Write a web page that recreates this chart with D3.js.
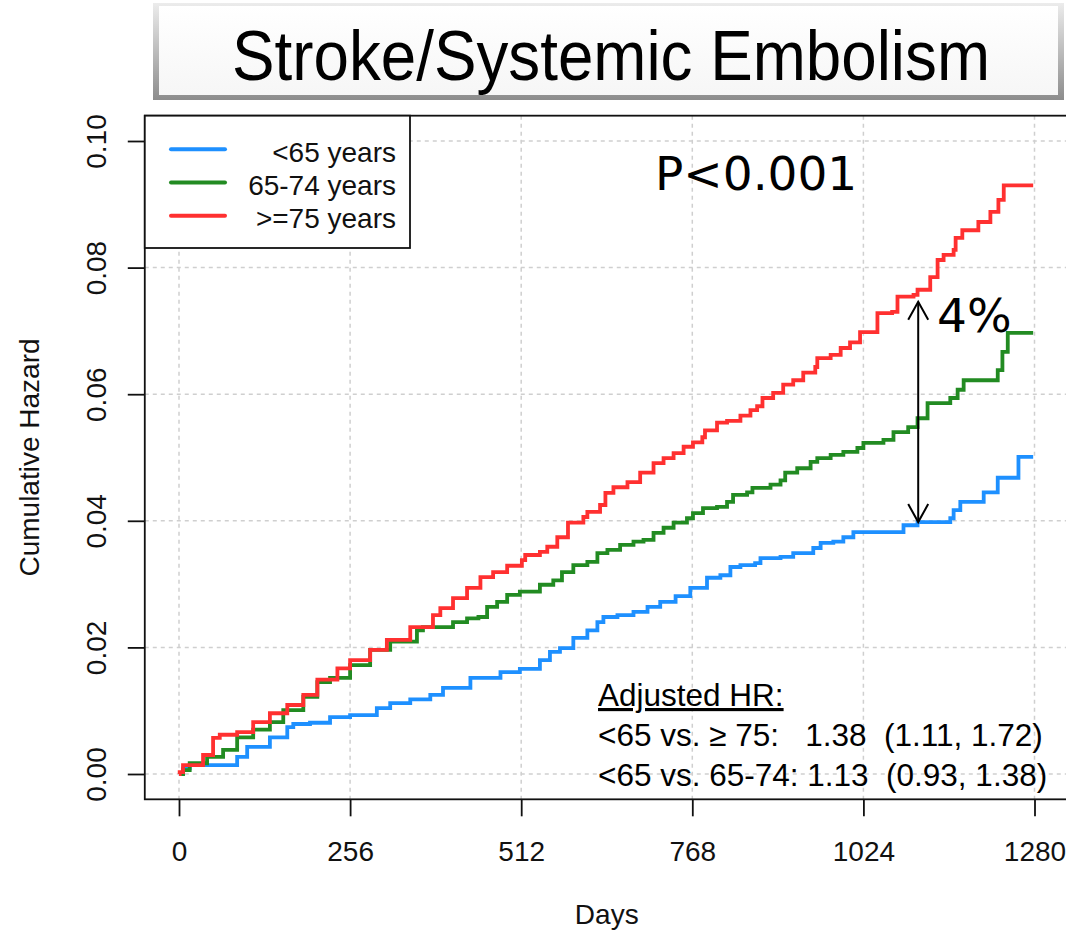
<!DOCTYPE html>
<html>
  <head>
    <meta charset="utf-8">
    <title>stroke-embolism-hazard</title>
    <script type="text/javascript" src="https://cdn.jsdelivr.net/npm/d3@7"></script>
    <style type="text/css">
      body { margin: 0; background: #fff; }
      .axis text { font-family: "Liberation Sans", Arial, sans-serif; font-size: 28px; fill: #111; }
      .axis line { stroke: #111; stroke-width: 1.8; }
      .r-text { font-family: "Liberation Sans", Arial, sans-serif; fill: #111; }
      .ppt-text { font-family: "DejaVu Sans", Verdana, sans-serif; fill: #000; }
    </style>
  </head>
  <body>
    <script type="text/javascript">
      var w = 1066;
      var h = 932;

      // tick values
      var xTicks = [0, 256, 512, 768, 1024, 1280];
      var yTicks = [0, 0.02, 0.04, 0.06, 0.08, 0.10];

      // legend / series names
      var groups = ["<65 years", "65-74 years", ">=75 years"];
      var colors = ["#1E90FF", "#228B22", "#FF3030"];

      // <65 years
      var daysA = [0, 6, 16, 51, 87, 102, 136, 162, 171, 196, 226, 256, 296, 316, 346, 376, 395, 436, 481, 510,
                   540, 555, 570, 590, 611, 626, 635, 656, 680, 701, 720, 743, 765, 790, 810, 825, 840, 862, 870, 900,
                   919, 949, 960, 979, 994, 1009, 1084, 1105, 1154, 1159, 1169, 1204, 1225, 1256, 1278];
      var hazA = [0, 0.0009, 0.0014, 0.0014, 0.0027, 0.0043, 0.0058, 0.0074, 0.0079, 0.0081, 0.0090, 0.0093, 0.0104, 0.0112, 0.0118, 0.0125, 0.0136, 0.0152, 0.0161, 0.0166,
                  0.0180, 0.0193, 0.0199, 0.0215, 0.0227, 0.0240, 0.0248, 0.0251, 0.0256, 0.0264, 0.0272, 0.0281, 0.0294, 0.0310, 0.0314, 0.0327, 0.0330, 0.0333, 0.0341, 0.0343,
                  0.0349, 0.0357, 0.0365, 0.0367, 0.0374, 0.0382, 0.0393, 0.0398, 0.0404, 0.0417, 0.0430, 0.0445, 0.0468, 0.0501, 0.0501];

      // 65-74 years
      var daysB = [0, 6, 16, 42, 66, 87, 111, 136, 156, 186, 207, 226, 256, 286, 316, 356, 365, 391, 410, 431,
                   448, 461, 476, 491, 510, 525, 540, 560, 573, 590, 611, 626, 641, 660, 680, 695, 710, 725, 740, 760,
                   769, 784, 805, 820, 829, 850, 858, 885, 900, 907, 925, 945, 955, 975, 994, 1015, 1024, 1054, 1069, 1091,
                   1105, 1120, 1154, 1165, 1174, 1219, 1225, 1232, 1240, 1278];
      var hazB = [0, 0.0006, 0.0017, 0.0027, 0.0038, 0.0058, 0.0070, 0.0082, 0.0101, 0.0122, 0.0145, 0.0152, 0.0172, 0.0196, 0.0209, 0.0227, 0.0232, 0.0232, 0.0240, 0.0246,
                  0.0248, 0.0264, 0.0272, 0.0283, 0.0288, 0.0288, 0.0299, 0.0306, 0.0319, 0.0330, 0.0335, 0.0349, 0.0354, 0.0362, 0.0367, 0.0370, 0.0381, 0.0389, 0.0397, 0.0404,
                  0.0412, 0.0420, 0.0422, 0.0430, 0.0441, 0.0445, 0.0452, 0.0457, 0.0464, 0.0476, 0.0483, 0.0493, 0.0499, 0.0504, 0.0509, 0.0515, 0.0523, 0.0528, 0.0540, 0.0548,
                  0.0562, 0.0586, 0.0594, 0.0607, 0.0622, 0.0622, 0.0638, 0.0667, 0.0697, 0.0697];

      // >=75 years
      var daysC = [0, 1, 6, 36, 51, 61, 87, 111, 136, 162, 186, 207, 237, 256, 286, 311, 346, 380, 391, 410,
                   431, 451, 470, 491, 513, 518, 540, 551, 566, 582, 605, 611, 630, 638, 650, 671, 690, 710, 725, 740,
                   755, 769, 783, 787, 805, 820, 840, 855, 865, 873, 889, 904, 919, 934, 952, 955, 975, 990, 1004, 1019,
                   1045, 1067, 1075, 1099, 1105, 1124, 1135, 1144, 1159, 1162, 1172, 1196, 1214, 1226, 1234, 1278];
      var hazC = [0, 0.0003, 0.0014, 0.0030, 0.0057, 0.0062, 0.0066, 0.0082, 0.0096, 0.0109, 0.0125, 0.0149, 0.0167, 0.0180, 0.0196, 0.0212, 0.0232, 0.0251, 0.0262, 0.0278,
                  0.0294, 0.0311, 0.0319, 0.0329, 0.0338, 0.0346, 0.0351, 0.0359, 0.0374, 0.0397, 0.0406, 0.0414, 0.0425, 0.0444, 0.0453, 0.0461, 0.0476, 0.0491, 0.0499, 0.0507,
                  0.0517, 0.0524, 0.0532, 0.0543, 0.0555, 0.0558, 0.0566, 0.0575, 0.0581, 0.0594, 0.0602, 0.0615, 0.0622, 0.0634, 0.0643, 0.0657, 0.0662, 0.0673, 0.0682, 0.0698,
                  0.0728, 0.0730, 0.0754, 0.0757, 0.0765, 0.0785, 0.0812, 0.0820, 0.0828, 0.0847, 0.0859, 0.0872, 0.0888, 0.0907, 0.0930, 0.0930];

      var hrLines = ["<65 vs. \u2265 75:   1.38  (1.11, 1.72)", "<65 vs. 65-74: 1.13  (0.93, 1.38)"];

      var series = [
        { name: groups[0], color: colors[0], pts: d3.zip(daysA, hazA) },
        { name: groups[1], color: colors[1], pts: d3.zip(daysB, hazB) },
        { name: groups[2], color: colors[2], pts: d3.zip(daysC, hazC) }
      ];

      // scales (R style: 4% padding on each side)
      var xScale = d3.scaleLinear().domain([0, 1280]).range([179, 1034.5]);
      var yScale = d3.scaleLinear().domain([0, 0.10]).range([774, 141]);
      var x0 = xScale(-51.2), x1 = xScale(1331.2);
      var y0 = yScale(-0.004), y1 = yScale(0.104);

      var svg = d3.select("body").append("svg")
                  .attr("width", w)
                  .attr("height", h);

      // title box with bevel
      var defs = svg.append("defs");
      var grad = defs.append("linearGradient").attr("id", "bevel")
                     .attr("x1", 0).attr("y1", 0).attr("x2", 0).attr("y2", 1);
      grad.append("stop").attr("offset", "0%").attr("stop-color", "#ececec");
      grad.append("stop").attr("offset", "100%").attr("stop-color", "#8c8c8c");
      var inner = defs.append("linearGradient").attr("id", "inner")
                      .attr("x1", 0).attr("y1", 0).attr("x2", 0).attr("y2", 1);
      inner.append("stop").attr("offset", "0%").attr("stop-color", "#ffffff");
      inner.append("stop").attr("offset", "100%").attr("stop-color", "#f6f6f6");

      svg.append("rect").attr("x", 153).attr("y", 3).attr("width", 911).attr("height", 97)
         .attr("fill", "url(#bevel)");
      svg.append("rect").attr("x", 159).attr("y", 6).attr("width", 899).attr("height", 89)
         .attr("fill", "url(#inner)");
      svg.append("text").attr("class", "r-text")
         .attr("x", 611).attr("y", 80)
         .attr("text-anchor", "middle")
         .attr("font-size", 70)
         .attr("textLength", 758).attr("lengthAdjust", "spacingAndGlyphs")
         .style("fill", "#000")
         .text("Stroke/Systemic Embolism");

      // grid
      var grid = svg.append("g")
                    .attr("stroke", "#cfcfcf")
                    .attr("stroke-width", 1.5)
                    .attr("stroke-dasharray", "4,4");
      grid.selectAll("line.v").data(xTicks).enter().append("line")
          .attr("x1", function(d) { return xScale(d); })
          .attr("x2", function(d) { return xScale(d); })
          .attr("y1", y1).attr("y2", y0);
      grid.selectAll("line.h").data(yTicks).enter().append("line")
          .attr("x1", x0).attr("x2", x1)
          .attr("y1", function(d) { return yScale(d); })
          .attr("y2", function(d) { return yScale(d); });

      // curves
      var line = d3.line()
                   .x(function(d) { return xScale(d[0]); })
                   .y(function(d) { return yScale(d[1]); })
                   .curve(d3.curveStepAfter);
      svg.selectAll("path.curve").data(series).enter().append("path")
         .attr("class", "curve")
         .attr("d", function(d) { return line(d.pts); })
         .attr("fill", "none")
         .attr("stroke", function(d) { return d.color; })
         .attr("stroke-width", 3.8);

      // axes
      var xAxis = d3.axisBottom(xScale).tickValues(xTicks).tickSize(17).tickSizeOuter(0)
                    .tickFormat(d3.format("d"));
      var gx = svg.append("g").attr("class", "axis")
                  .attr("transform", "translate(0," + y0 + ")")
                  .call(xAxis);
      gx.select(".domain").remove();
      gx.selectAll("text").attr("dy", null).attr("y", 62);

      var yAxis = d3.axisLeft(yScale).tickValues(yTicks).tickSize(17).tickSizeOuter(0)
                    .tickFormat(d3.format(".2f"));
      var gy = svg.append("g").attr("class", "axis")
                  .attr("transform", "translate(" + x0 + ",0)")
                  .call(yAxis);
      gy.select(".domain").remove();
      gy.selectAll("text")
        .attr("x", null).attr("dy", null)
        .attr("text-anchor", "middle")
        .attr("transform", "translate(-39,0) rotate(-90)");

      // plot box
      svg.append("rect").attr("x", x0).attr("y", y1)
         .attr("width", x1 - x0).attr("height", y0 - y1)
         .attr("fill", "none").attr("stroke", "#111").attr("stroke-width", 1.8);

      // axis titles
      svg.append("text").attr("class", "r-text")
         .attr("x", (xScale(0) + xScale(1280)) / 2).attr("y", 924)
         .attr("text-anchor", "middle").attr("font-size", 28)
         .text("Days");
      svg.append("text").attr("class", "r-text")
         .attr("transform", "translate(39," + ((y0 + y1) / 2) + ") rotate(-90)")
         .attr("text-anchor", "middle").attr("font-size", 28)
         .text("Cumulative Hazard");

      // legend
      var leg = svg.append("g");
      leg.append("rect").attr("x", x0).attr("y", y1).attr("width", 410 - x0).attr("height", 248 - y1)
         .attr("fill", "#fff").attr("stroke", "#111").attr("stroke-width", 1.8);
      var items = leg.selectAll("g.item").data(series).enter().append("g")
                     .attr("transform", function(d, i) { return "translate(0," + (161.7 + i * 33.3) + ")"; });
      items.append("line").attr("x1", 171).attr("x2", 225).attr("y1", -12.5).attr("y2", -12.5)
           .attr("stroke", function(d) { return d.color; })
           .attr("stroke-width", 4).attr("stroke-linecap", "round");
      items.append("text").attr("class", "r-text")
           .attr("x", 396).attr("text-anchor", "end").attr("font-size", 28)
           .text(function(d) { return d.name; });

      // annotations
      svg.append("text").attr("class", "ppt-text")
         .attr("x", 655).attr("y", 190).attr("font-size", 47)
         .text("P<0.001");

      var ax = xScale(1106);
      var aTop = yScale(0.0746), aBot = yScale(0.0398);
      var arrow = svg.append("g").attr("stroke", "#000").attr("stroke-width", 2).attr("fill", "none");
      arrow.append("line").attr("x1", ax).attr("x2", ax).attr("y1", aTop).attr("y2", aBot);
      arrow.append("path").attr("d", "M" + (ax - 10) + "," + (aTop + 18) + "L" + ax + "," + aTop + "L" + (ax + 10) + "," + (aTop + 18));
      arrow.append("path").attr("d", "M" + (ax - 10) + "," + (aBot - 18) + "L" + ax + "," + aBot + "L" + (ax + 10) + "," + (aBot - 18));

      svg.append("text").attr("class", "ppt-text")
         .attr("x", 937).attr("y", 332).attr("font-size", 47)
         .text("4%");

      var hr = svg.append("g").attr("class", "r-text").attr("font-size", 31.5)
                  .style("fill", "#000");
      hr.append("text").attr("x", 598).attr("y", 706)
        .style("text-decoration", "underline")
        .text("Adjusted HR:");
      hr.selectAll("text.hr").data(hrLines).enter().append("text")
        .attr("class", "hr")
        .attr("x", 598)
        .attr("y", function(d, i) { return 746 + i * 39.5; })
        .attr("xml:space", "preserve")
        .style("white-space", "pre")
        .text(function(d) { return d; });
    </script>
  </body>
</html>
